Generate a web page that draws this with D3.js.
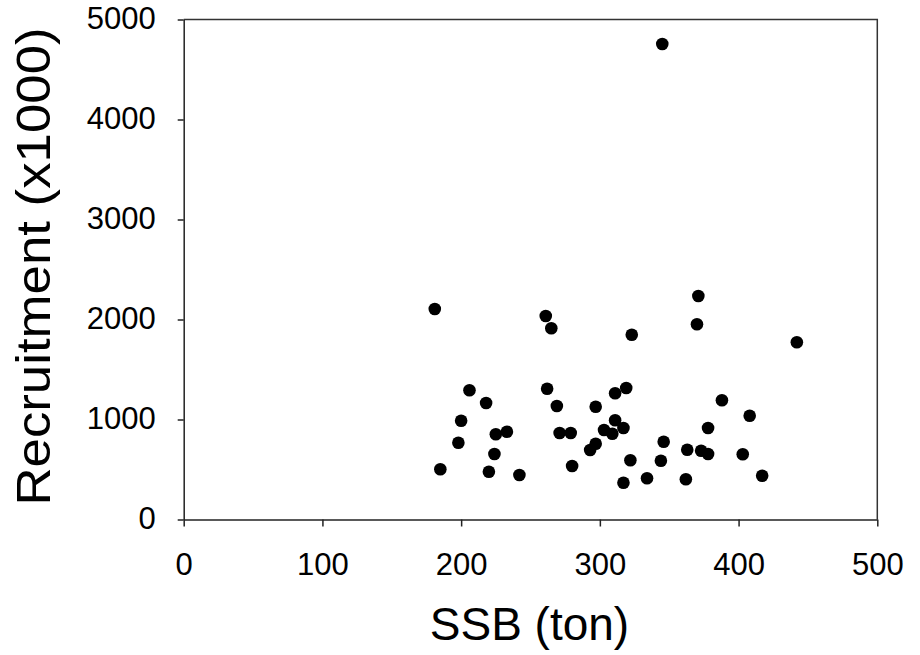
<!DOCTYPE html>
<html>
<head>
<meta charset="utf-8">
<script src="https://cdn.jsdelivr.net/npm/d3@7"></script>
<style>
  body { margin: 0; background: #fff; }
  text { font-family: Arial, "Liberation Sans", sans-serif; fill: #000; }
</style>
</head>
<body>
<div id="chart"></div>
<script>
// SSB (ton) and recruitment (x1000)
const ssb = [181, 206, 218, 200, 198, 225, 233, 224, 185, 220,
  242, 261, 265, 323, 371, 370, 442, 262, 269, 297,
  311, 319, 388, 408, 271, 279, 311, 303, 309, 317,
  378, 297, 293, 280, 322, 346, 344, 363, 373, 378,
  403, 417, 317, 334, 362, 345];
const recruitment = [2105, 1292, 1165, 988, 768, 852, 878, 655, 502, 478,
  445, 2035, 1912, 1848, 2235, 1952, 1772, 1308, 1135, 1128,
  1262, 1315, 1192, 1038, 865, 865, 992, 895, 858, 915,
  915, 758, 695, 535, 592, 778, 588, 698, 688, 655,
  652, 438, 368, 412, 402, 4755];
const xTicks = [0, 100, 200, 300, 400, 500];
const yTicks = [0, 1000, 2000, 3000, 4000, 5000];

const width = 920, height = 655;
const margin = { top: 19.5, right: 42.7, bottom: 135.5, left: 183.7 };
const w = width - margin.left - margin.right;
const h = height - margin.top - margin.bottom;

const svg = d3.select("#chart").append("svg")
  .attr("width", width)
  .attr("height", height);

const g = svg.append("g")
  .attr("transform", `translate(${margin.left},${margin.top})`);

const x = d3.scaleLinear().domain([0, 500]).range([0, w]);
const y = d3.scaleLinear().domain([0, 5000]).range([h, 0]);

// box (top and right)
g.append("path")
  .attr("d", `M0,0H${w}V${h}`)
  .attr("fill", "none")
  .attr("stroke", "#333")
  .attr("stroke-width", 1.5);

const xAxis = g.append("g")
  .attr("transform", `translate(0,${h})`)
  .call(d3.axisBottom(x).tickValues(xTicks).tickFormat(d3.format("d"))
    .tickSize(7).tickSizeOuter(0).tickPadding(26));

const yAxis = g.append("g")
  .call(d3.axisLeft(y).tickValues(yTicks).tickFormat(d3.format("d"))
    .tickSize(6).tickSizeOuter(0).tickPadding(22));

[xAxis, yAxis].forEach(a => {
  a.selectAll("path, line").attr("stroke", "#222").attr("stroke-width", 1.5);
  a.selectAll("text").style("font-size", "31px").attr("fill", "#000");
});
yAxis.selectAll("text").attr("dy", "0.28em");
xAxis.selectAll("text").attr("dy", "0.72em");

// points
g.append("g").selectAll("circle")
  .data(ssb.map((s, i) => ({ s, r: recruitment[i] })))
  .join("circle")
  .attr("cx", d => x(d.s))
  .attr("cy", d => y(d.r))
  .attr("r", 6.3)
  .attr("fill", "#000");

// axis titles
svg.append("text")
  .attr("x", margin.left + w / 2 - 1)
  .attr("y", 640)
  .attr("text-anchor", "middle")
  .style("font-size", "46px")
  .text("SSB (ton)");

svg.append("text")
  .attr("transform", `translate(50,${margin.top + h / 2 - 3}) rotate(-90) scale(1.1,1)`)
  .attr("text-anchor", "middle")
  .style("font-size", "48px")
  .text("Recruitment (x1000)");
</script>
</body>
</html>
